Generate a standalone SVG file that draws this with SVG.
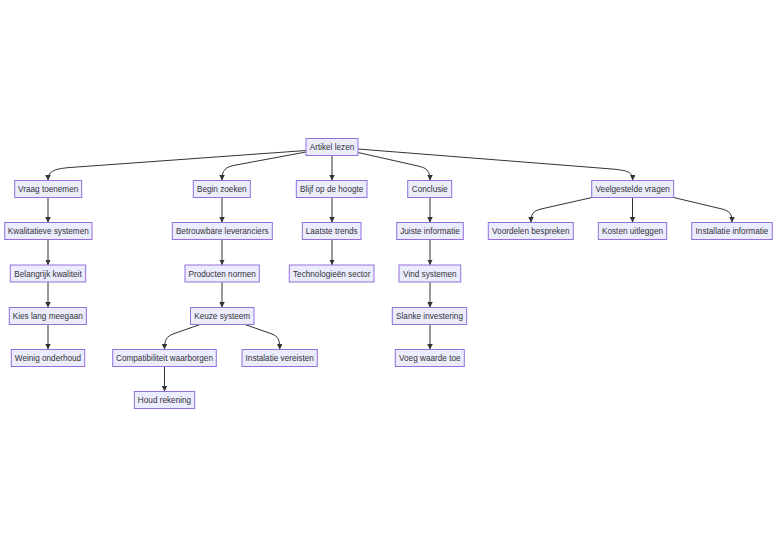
<svg xmlns="http://www.w3.org/2000/svg" width="784" height="547" viewBox="0 0 784 547">
<style>
.n rect{fill:#ECECFF;stroke:#9370DB;stroke-width:1}
.n text{font-family:"Liberation Sans",Arial,sans-serif;font-size:8.2px;fill:#333;text-anchor:middle}
.e path{fill:none;stroke:#333;stroke-width:1;marker-end:url(#arr)}
</style>
<defs>
<marker id="arr" viewBox="0 0 10 10" refX="10" refY="5" markerWidth="5.5" markerHeight="5.5" markerUnits="userSpaceOnUse" orient="auto">
<path d="M0,0 L10,5 L0,10 z" fill="#333"/>
</marker>
</defs>
<rect width="784" height="547" fill="#fff"/>
<g id="edges" class="e">
<path d="M306,150.5 L70,167.5 C52,169 48,172 48,180.5"/>
<path d="M306,152 L236,165 C225,167 222,170 222,180.5"/>
<path d="M332,155.5 L332,180.5"/>
<path d="M358,152.5 L418,166 C427,168 430,171 430,180.5"/>
<path d="M358,149 L612,169 C628,170.5 632.7,172 632.7,180.5"/>
<path d="M48,197.5 L48,222.5"/>
<path d="M48,239.5 L48,265"/>
<path d="M48,282 L48,307.5"/>
<path d="M48,324.5 L48,349.5"/>
<path d="M222,197.5 L222,222.5"/>
<path d="M222,239.5 L222,265"/>
<path d="M222,282 L222,307.5"/>
<path d="M200,324.5 L173,334 C167,336.5 164.5,339 164.5,349.5"/>
<path d="M245,324.5 L272,334 C278,336.5 279.7,339 279.7,349.5"/>
<path d="M164.5,366.5 L164.5,391.5"/>
<path d="M332,197.5 L332,222.5"/>
<path d="M332,239.5 L332,265"/>
<path d="M430,197.5 L430,222.5"/>
<path d="M430,239.5 L430,265"/>
<path d="M430,282 L430,307.5"/>
<path d="M430,324.5 L430,349.5"/>
<path d="M592,197.5 L541,209 C533,211 531,214 531,222.5"/>
<path d="M632.5,197.5 L632.5,222.5"/>
<path d="M673.7,197.5 L722,209 C730,211 732,214 732,222.5"/>
</g>
<g id="n0" class="n"><rect x="306" y="138.5" width="52" height="17"/><text x="332" y="150">Artikel lezen</text></g>
<g id="n1" class="n"><rect x="14.7" y="180.5" width="67" height="17"/><text x="48.2" y="192">Vraag toenemen</text></g>
<g id="n2" class="n"><rect x="193.3" y="180.5" width="57" height="17"/><text x="221.8" y="192">Begin zoeken</text></g>
<g id="n3" class="n"><rect x="296.3" y="180.5" width="70.7" height="17"/><text x="331.7" y="192">Blijf op de hoogte</text></g>
<g id="n4" class="n"><rect x="407.7" y="180.5" width="44" height="17"/><text x="429.7" y="192">Conclusie</text></g>
<g id="n5" class="n"><rect x="591.7" y="180.5" width="82" height="17"/><text x="632.7" y="192">Veelgestelde vragen</text></g>
<g id="n6" class="n"><rect x="4.7" y="222.5" width="87.3" height="17"/><text x="48.3" y="234">Kwalitatieve systemen</text></g>
<g id="n7" class="n"><rect x="172.3" y="222.5" width="100" height="17"/><text x="222.3" y="234">Betrouwbare leveranciers</text></g>
<g id="n8" class="n"><rect x="302.3" y="222.5" width="58.7" height="17"/><text x="331.7" y="234">Laatste trends</text></g>
<g id="n9" class="n"><rect x="396.7" y="222.5" width="66.6" height="17"/><text x="430" y="234">Juiste informatie</text></g>
<g id="n10" class="n"><rect x="488.3" y="222.5" width="85" height="17"/><text x="530.8" y="234">Voordelen bespreken</text></g>
<g id="n11" class="n"><rect x="598.3" y="222.5" width="68.4" height="17"/><text x="632.5" y="234">Kosten uitleggen</text></g>
<g id="n12" class="n"><rect x="691.7" y="222.5" width="80.6" height="17"/><text x="732" y="234">Installatie informatie</text></g>
<g id="n13" class="n"><rect x="10.3" y="265" width="75.4" height="17"/><text x="48" y="276.5">Belangrijk kwaliteit</text></g>
<g id="n14" class="n"><rect x="185" y="265" width="74.3" height="17"/><text x="222.2" y="276.5">Producten normen</text></g>
<g id="n15" class="n"><rect x="289.3" y="265" width="84.7" height="17"/><text x="331.7" y="276.5">Technologieën sector</text></g>
<g id="n16" class="n"><rect x="399" y="265" width="61.7" height="17"/><text x="429.9" y="276.5">Vind systemen</text></g>
<g id="n17" class="n"><rect x="9.3" y="307.5" width="77" height="17"/><text x="47.8" y="319">Kies lang meegaan</text></g>
<g id="n18" class="n"><rect x="190.5" y="307.5" width="63.5" height="17"/><text x="222.2" y="319">Keuze systeem</text></g>
<g id="n19" class="n"><rect x="392.3" y="307.5" width="74.4" height="17"/><text x="429.5" y="319">Slanke investering</text></g>
<g id="n20" class="n"><rect x="11.3" y="349.5" width="73.4" height="17"/><text x="48" y="361">Weinig onderhoud</text></g>
<g id="n21" class="n"><rect x="112.7" y="349.5" width="103.6" height="17"/><text x="164.5" y="361">Compatibiliteit waarborgen</text></g>
<g id="n22" class="n"><rect x="242" y="349.5" width="75.3" height="17"/><text x="279.7" y="361">Instalatie vereisten</text></g>
<g id="n23" class="n"><rect x="395.3" y="349.5" width="69" height="17"/><text x="429.8" y="361">Voeg waarde toe</text></g>
<g id="n24" class="n"><rect x="134.3" y="391.5" width="60.4" height="17"/><text x="164.5" y="403">Houd rekening</text></g>
</svg>
